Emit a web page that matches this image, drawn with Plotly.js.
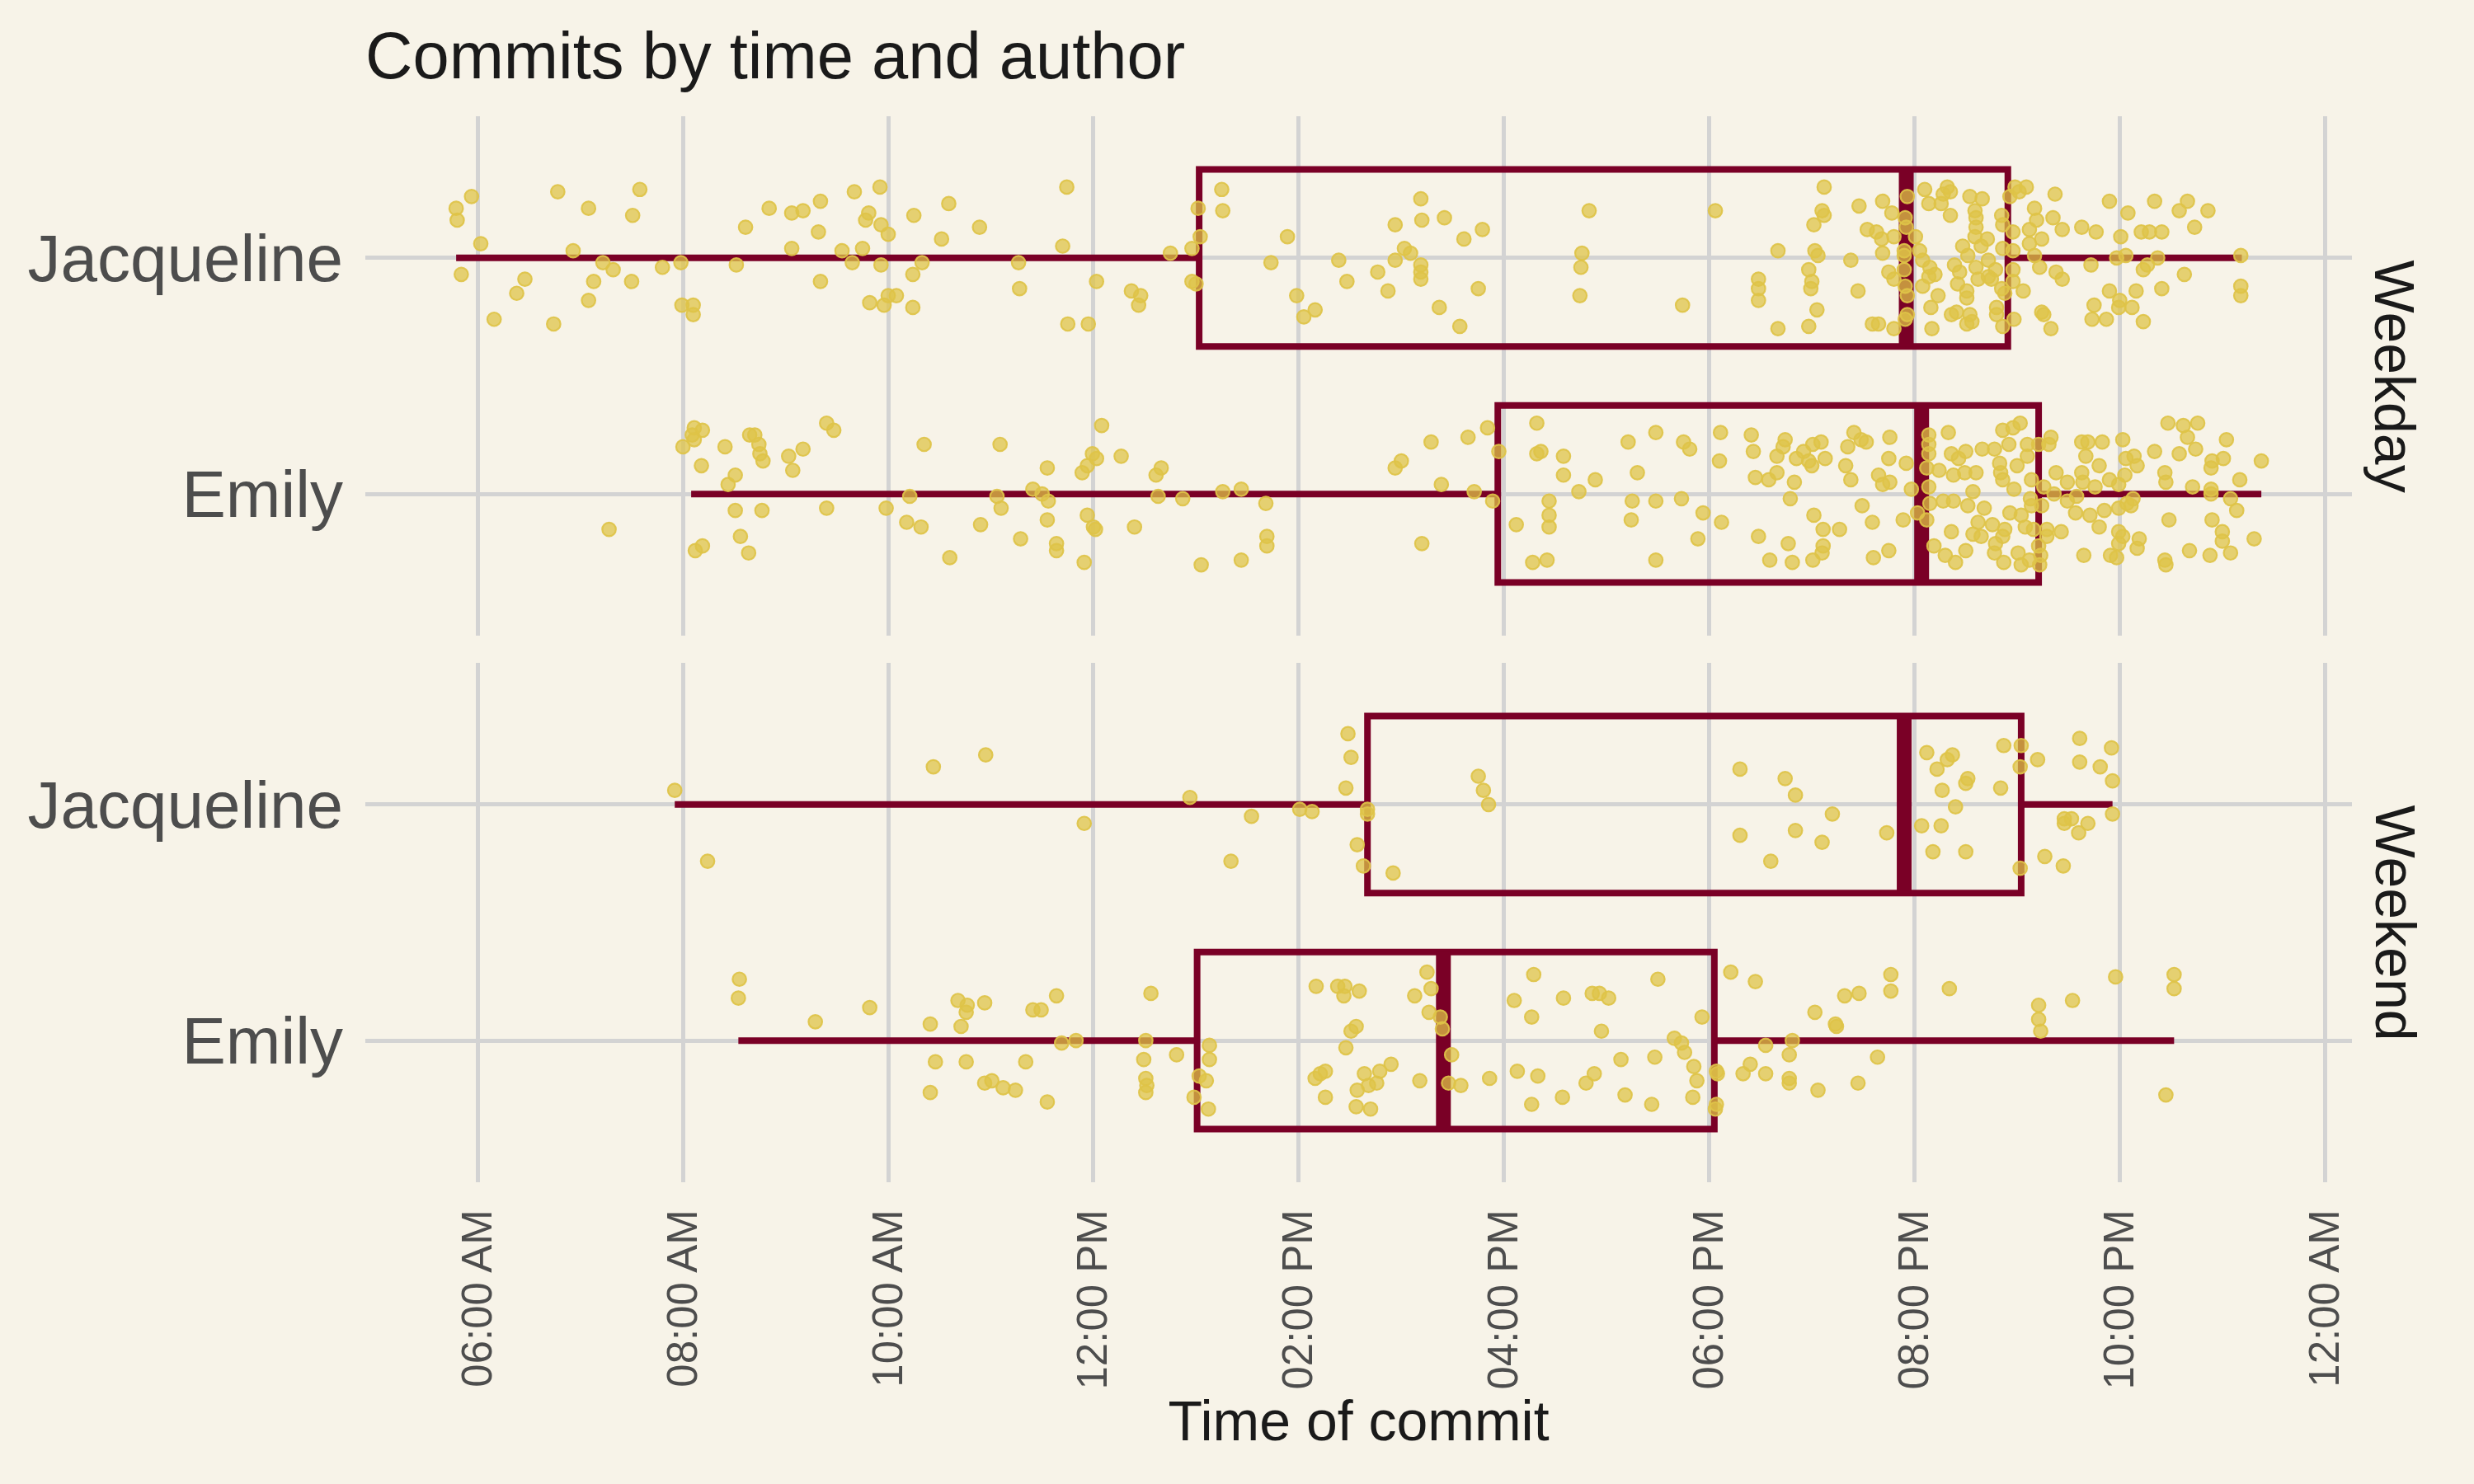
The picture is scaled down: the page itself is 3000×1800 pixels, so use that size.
<!DOCTYPE html>
<html>
<head>
<meta charset="utf-8">
<script src="https://cdn.plot.ly/plotly-3.0.1.min.js"></script>
<style>html,body{margin:0;padding:0;background:#F7F3E8;}#chart{width:3000px;height:1800px;}</style>
</head>
<body>
<div id="chart"></div>
<script>
// ---------- data ----------
const authors = ['Emily', 'Jacqueline'];            // y positions 1, 2
const authorPos = [1, 2];
const panels = ['Weekday', 'Weekend'];

const xTickVals = [6, 8, 10, 12, 14, 16, 18, 20, 22, 24];
const xTickText = ['06:00 AM', '08:00 AM', '10:00 AM', '12:00 PM', '02:00 PM', '04:00 PM', '06:00 PM', '08:00 PM', '10:00 PM', '12:00 AM'];

// box statistics (hours of day), order: Emily, Jacqueline
const weekdayLowerFence = [8.08, 5.79];
const weekdayQ1 = [15.94, 13.03];
const weekdayMedian = [20.07, 19.92];
const weekdayQ3 = [21.21, 20.91];
const weekdayUpperFence = [23.38, 23.19];

const weekendLowerFence = [8.54, 7.92];
const weekendQ1 = [13.01, 14.67];
const weekendMedian = [15.41, 19.90];
const weekendQ3 = [18.05, 21.04];
const weekendUpperFence = [22.53, 21.93];

// commits: time of day (hours) and vertical jitter (category units)
const weekdayJacquelineTime = [
 5.79,5.80,5.94,6.03,5.84,6.16,6.38,6.46,6.78,6.74,
 6.93,7.08,7.22,7.13,7.08,7.32,7.58,7.51,7.50,7.80,
 7.98,7.99,8.10,8.10,8.52,8.61,8.84,9.06,9.17,9.06,
 9.34,9.32,9.34,9.55,9.65,9.67,9.75,9.81,9.78,9.92,
 9.93,10.00,9.93,9.82,9.96,10.00,10.08,10.25,10.24,10.33,
 10.24,10.59,10.52,10.89,11.27,11.28,11.74,11.70,11.75,
 11.95,12.03,12.37,12.46,12.44,12.75,12.96,13.02,13.04,12.96,
 13.00,13.25,13.26,13.73,13.89,13.98,14.05,14.16,14.39,14.47,
 14.77,14.87,14.94,14.94,15.03,15.09,15.19,15.20,15.19,15.19,
 15.19,15.42,15.61,15.79,15.75,15.37,15.57,16.83,16.76,16.75,
 16.74,17.74,
 18.06,18.48,18.48,18.48,18.67,18.67,19.12,19.10,19.12,19.02,
 19.03,19.06,18.97,19.00,18.99,19.05,18.97,19.38,19.45,19.46,
 19.69,19.78,19.54,19.63,19.68,19.80,19.69,19.75,19.80,19.59,
 19.65,19.80,19.93,19.91,19.92,19.90,19.90,19.90,19.91,19.93,
 19.93,19.91,20.01,20.05,20.10,20.14,20.26,20.28,20.32,20.35,
 20.35,20.08,20.15,20.08,20.14,20.20,20.23,20.16,20.17,20.39,
 20.44,20.42,20.47,20.51,20.51,20.36,20.41,20.51,20.56,20.54,
 20.54,20.66,20.59,20.60,20.60,20.59,20.52,20.60,20.71,20.65,
 20.72,20.72,20.62,20.79,20.75,20.80,20.80,20.85,20.86,20.86,
 20.85,20.88,20.86,20.97,20.93,20.98,21.02,21.09,20.96,20.96,
 20.96,20.96,21.06,21.17,21.19,21.12,21.12,21.17,21.22,21.24,
 21.35,21.37,21.44,21.38,21.44,21.24,21.26,21.33,21.63,21.77,
 21.72,21.90,22.08,22.01,21.97,22.06,21.90,21.75,21.73,21.87,
 22.00,21.99,22.12,22.16,22.23,22.21,22.29,22.41,22.34,22.23,
 22.27,22.37,22.41,22.63,22.58,22.66,22.73,22.86,23.18,23.18,23.18
];
const weekdayJacquelineJitter = [
 0.21,0.16,0.26,0.06,-0.07,-0.26,-0.15,-0.09,0.28,-0.28,
 0.03,0.21,-0.02,-0.10,-0.18,-0.05,0.29,0.18,-0.10,-0.04,
 -0.02,-0.20,-0.20,-0.24,-0.03,0.13,0.21,0.19,0.20,0.04,
 0.24,0.11,-0.10,0.03,-0.02,0.28,0.04,0.19,0.16,0.30,
 0.14,0.10,-0.03,-0.19,-0.20,-0.16,-0.16,0.18,-0.07,-0.02,
 -0.21,0.23,0.08,0.13,-0.02,-0.13,0.30,0.05,-0.28,
 -0.28,-0.10,-0.14,-0.16,-0.20,0.02,0.04,0.21,0.09,-0.10,
 -0.11,0.29,0.20,-0.02,0.09,-0.16,-0.25,-0.22,-0.01,-0.10,
 -0.06,-0.14,0.14,-0.01,0.04,0.02,0.25,0.16,-0.03,-0.06,
 -0.09,0.17,0.08,0.12,-0.13,-0.21,-0.29,0.20,0.02,-0.04,
 -0.16,-0.20,
 0.20,-0.09,-0.13,-0.18,0.03,-0.30,0.30,0.20,0.18,0.14,
 0.03,0.01,-0.05,-0.10,-0.13,-0.22,-0.29,-0.01,-0.14,0.22,
 0.24,0.19,0.12,0.11,0.08,0.09,0.02,-0.06,-0.09,-0.28,
 -0.28,-0.30,0.26,0.17,0.13,0.03,0.01,-0.05,-0.12,-0.16,
 -0.24,-0.26,0.09,0.03,0.29,0.23,0.23,0.27,0.30,0.28,
 0.18,-0.01,-0.04,-0.12,-0.08,-0.07,-0.16,-0.21,-0.30,-0.03,
 -0.06,-0.11,0.05,-0.14,-0.17,-0.24,-0.23,-0.28,-0.27,-0.24,
 0.26,0.25,0.20,0.17,0.13,0.09,0.01,-0.04,0.08,0.05,
 -0.01,-0.08,-0.09,-0.05,-0.09,-0.21,-0.24,0.18,0.14,0.04,
 -0.13,-0.15,-0.29,-0.26,0.26,0.30,0.28,0.30,0.11,0.03,
 -0.05,-0.10,-0.14,0.21,0.16,0.12,0.06,0.01,-0.04,0.08,
 0.17,0.27,0.12,-0.06,-0.09,-0.23,-0.24,-0.30,0.13,0.11,
 -0.03,0.24,0.19,0.09,0.00,0.01,-0.14,-0.20,-0.26,-0.26,
 -0.18,-0.21,-0.21,-0.14,-0.27,0.11,0.11,0.11,0.24,-0.05,
 -0.03,0.00,-0.13,-0.07,0.20,0.24,0.13,0.20,0.01,-0.12,-0.16
];

const weekdayEmilyTime = [
 7.28,8.00,8.11,8.19,8.09,8.11,8.18,8.41,8.51,8.44,
 8.51,8.77,8.56,8.19,8.12,8.64,8.65,8.70,8.74,8.75,
 8.78,9.03,9.17,9.07,9.40,9.47,9.40,9.98,10.21,10.18,
 10.32,10.35,10.60,10.90,11.06,11.09,11.10,11.29,11.41,11.50,
 11.56,11.55,11.55,11.64,11.64,
 12.08,11.99,12.03,11.94,11.89,12.27,12.61,12.66,12.63,12.87,
 13.26,13.44,13.68,11.94,12.00,12.02,12.40,11.91,13.05,13.44,
 13.69,13.69,14.94,15.00,15.29,15.39,15.20,15.65,15.84,15.71,
 15.95,15.89,16.32,16.32,16.36,16.58,16.58,16.89,16.73,16.44,
 16.44,16.44,16.12,16.28,16.42,17.21,17.48,17.30,17.25,17.48,
 17.73,17.24,17.48,17.75,17.81,17.89,
 17.94,
 18.11,18.10,18.12,18.41,18.43,18.45,18.58,18.48,18.59,18.66,
 18.66,18.72,18.74,18.79,18.83,18.85,18.92,18.97,19.00,19.01,
 19.09,19.13,19.02,19.11,18.77,18.81,19.01,19.11,19.10,19.27,
 19.33,19.35,19.41,19.48,19.53,19.38,19.49,19.59,19.60,19.75,
 19.65,19.69,19.76,19.75,19.76,19.92,19.97,19.89,20.03,20.14,
 20.14,20.14,20.12,20.14,20.15,20.12,20.24,20.33,20.36,20.43,
 20.50,20.38,20.49,20.60,20.28,20.38,20.52,20.57,20.68,20.36,
 20.19,20.30,20.40,20.50,20.62,20.57,20.65,20.76,20.66,20.78,
 20.86,20.96,21.03,20.92,20.83,20.84,20.86,21.00,20.97,20.93,
 21.04,20.88,20.86,20.79,20.78,20.87,21.01,21.04,21.12,21.08,
 21.10,21.10,21.14,21.13,21.14,21.16,21.21,21.21,21.23,21.22,
 21.26,21.24,21.29,21.29,21.33,21.31,21.38,21.36,21.43,21.49,
 21.49,21.57,21.58,21.63,21.64,21.67,21.63,21.69,21.65,21.71,
 21.76,21.80,21.83,21.80,21.85,21.90,21.99,22.03,22.05,22.06,
 22.14,22.17,21.99,22.07,22.13,22.11,21.99,22.03,21.99,22.19,
 22.17,21.91,21.97,22.34,22.47,22.62,22.76,22.66,22.58,22.74,
 22.44,22.45,22.71,22.90,22.89,23.01,23.04,23.17,22.89,22.89,
 23.08,23.14,22.48,22.90,23.00,23.00,23.31,22.68,22.44,22.45,
 22.88,23.08,23.38
];
const weekdayEmilyJitter = [
 -0.15,0.20,0.28,0.27,0.25,0.23,0.12,0.20,0.08,0.04,
 -0.07,-0.07,-0.18,-0.22,-0.24,-0.25,0.25,0.25,0.21,0.17,
 0.14,0.16,0.19,0.10,0.30,0.27,-0.06,-0.06,-0.01,-0.12,
 -0.14,0.21,-0.27,-0.13,-0.01,0.21,-0.06,-0.19,0.02,0.00,
 -0.03,-0.11,0.11,-0.21,-0.24,
 0.29,0.17,0.15,0.12,0.09,0.16,0.08,0.11,-0.01,-0.02,
 0.01,0.02,-0.04,-0.09,-0.14,-0.15,-0.14,-0.29,-0.30,-0.28,
 -0.18,-0.22,0.11,0.14,0.22,0.04,-0.21,0.24,0.28,0.01,
 0.18,-0.03,0.30,0.17,0.18,0.16,0.08,0.06,0.01,-0.03,
 -0.09,-0.14,-0.13,-0.29,-0.28,0.22,0.26,0.09,-0.03,-0.03,
 -0.02,-0.11,-0.28,0.22,0.19,-0.19,
 -0.08,
 0.26,0.14,-0.12,0.25,0.18,0.07,0.06,-0.18,-0.28,0.09,
 0.16,0.20,0.23,-0.02,0.05,0.15,0.18,0.14,0.12,0.21,
 0.22,0.15,-0.09,-0.15,-0.21,-0.29,-0.28,-0.22,-0.25,-0.15,
 0.12,0.20,0.26,0.23,0.22,0.06,-0.05,-0.12,-0.27,-0.24,
 0.08,0.04,0.05,0.15,0.24,0.13,0.02,-0.11,-0.08,0.25,
 0.21,0.17,0.11,0.03,-0.04,-0.11,0.10,0.26,0.17,0.15,
 0.18,0.08,0.09,0.09,-0.03,-0.03,-0.05,0.01,-0.06,-0.16,
 -0.22,-0.26,-0.29,-0.24,-0.12,-0.17,-0.18,-0.13,0.19,0.19,
 0.27,0.28,0.30,0.21,0.13,0.09,0.06,0.12,0.02,-0.08,
 -0.09,-0.15,-0.18,-0.21,-0.25,-0.29,-0.25,-0.30,-0.28,-0.14,
 0.21,0.16,0.06,-0.02,-0.05,-0.15,0.21,-0.22,-0.26,-0.30,
 0.03,-0.05,-0.15,-0.18,0.24,0.21,0.09,0.00,-0.16,0.05,
 -0.03,-0.08,-0.01,0.09,0.05,0.16,0.22,0.22,-0.26,-0.09,
 0.03,0.12,0.22,-0.14,-0.07,0.06,0.04,0.23,0.08,0.15,
 0.16,0.12,-0.06,-0.04,-0.02,-0.05,-0.16,-0.18,-0.21,-0.19,
 -0.23,-0.26,-0.27,0.18,0.30,0.29,0.30,0.24,0.17,0.19,
 0.09,0.05,0.03,0.14,0.11,0.15,0.23,0.06,0.02,0.00,
 -0.02,-0.07,-0.11,-0.11,-0.16,-0.20,-0.19,-0.24,-0.28,-0.30,
 -0.26,-0.25,0.14
];

const weekendJacquelineTime = [
 7.92,8.24,10.44,10.95,
 11.91,12.94,13.54,13.34,14.01,14.13,14.48,14.51,14.46,14.67,
 14.67,14.57,14.63,14.92,15.75,15.80,15.85,
 18.30,18.74,18.84,19.20,18.30,18.84,19.10,18.60,19.73,20.12,
 20.32,20.37,20.22,20.52,20.50,20.27,20.40,20.07,20.26,20.18,
 20.50,20.87,20.84,21.04,21.03,21.03,21.20,21.61,21.61,21.81,
 21.92,21.93,21.93,21.46,21.53,21.46,21.69,21.60,21.27,21.45
];
const weekendJacquelineJitter = [
 0.06,-0.24,0.16,0.21,
 -0.08,0.03,-0.05,-0.24,-0.02,-0.03,0.30,0.20,0.07,-0.02,
 -0.04,-0.17,-0.26,-0.29,0.12,0.06,0.00,
 0.15,0.11,0.04,-0.04,-0.13,-0.11,-0.16,-0.24,-0.12,0.22,
 0.19,0.21,0.15,0.11,0.09,0.06,-0.01,-0.09,-0.09,-0.20,
 -0.20,0.25,0.07,0.25,0.16,-0.27,0.19,0.28,0.18,0.16,
 0.24,0.10,-0.04,-0.06,-0.06,-0.08,-0.08,-0.12,-0.22,-0.26
];

const weekendEmilyTime = [
 8.55,8.54,9.29,9.82,10.41,10.68,10.77,10.76,10.94,10.71,
 10.46,10.76,10.41,10.94,11.01,11.12,11.24,11.34,11.55,11.41,
 11.49,11.64,11.69,
 11.83,12.56,12.51,12.49,12.81,12.51,12.52,12.51,13.13,13.13,
 13.03,13.10,12.98,13.12,14.17,14.38,14.45,14.44,14.59,14.51,
 14.56,14.46,14.16,14.21,14.26,14.26,14.64,14.79,14.90,14.57,
 14.68,14.76,14.56,14.70,15.18,15.25,15.29,15.13,15.27,15.38,
 15.40,15.49,15.46,15.58,15.86,16.13,16.33,16.27,16.57,16.29,
 16.10,16.27,16.58,16.86,16.93,17.02,16.95,17.50,17.14,17.47,
 17.66,17.73,17.76,16.88,16.80,17.18,17.44,17.85,17.88,17.84,
 17.93,18.21,18.45,18.07,18.08,18.07,18.06,18.40,18.33,18.55,
 18.55,18.81,18.78,18.78,18.78,19.06,19.45,19.64,19.03,19.23,
 19.24,19.32,19.46,19.77,19.77,20.34,21.21,21.21,21.23,21.54,
 21.96,22.53,22.53,22.45
];
const weekendEmilyJitter = [
 0.26,0.18,0.08,0.14,0.07,0.17,0.15,0.12,0.16,0.06,
 -0.09,-0.09,-0.22,-0.18,-0.17,-0.20,-0.21,-0.09,-0.26,0.13,
 0.13,0.19,-0.01,
 0.00,0.20,0.00,-0.08,-0.06,-0.16,-0.19,-0.22,-0.02,-0.08,
 -0.15,-0.17,-0.24,-0.29,0.23,0.23,0.23,0.19,0.21,0.04,
 0.06,-0.03,-0.16,-0.14,-0.13,-0.24,-0.14,-0.13,-0.10,-0.21,
 -0.19,-0.18,-0.28,-0.29,-0.17,0.29,0.22,0.19,0.12,0.10,
 0.05,-0.06,-0.18,-0.19,-0.16,-0.13,-0.15,-0.27,-0.24,0.28,
 0.17,0.10,0.18,0.20,0.20,0.18,0.04,0.26,-0.08,-0.07,
 0.01,-0.01,-0.05,-0.14,-0.18,-0.23,-0.27,-0.11,-0.17,-0.24,
 0.10,0.29,0.25,-0.13,-0.14,-0.27,-0.29,-0.10,-0.14,-0.14,
 -0.02,0.00,-0.06,-0.16,-0.18,-0.21,-0.18,-0.07,0.12,0.07,
 0.06,0.19,0.20,0.28,0.21,0.22,0.15,0.09,0.04,0.17,
 0.27,0.28,0.22,-0.23
];

// ---------- styles ----------
const BG = '#F7F3E8';
const BOX = '#7A0026';
const FONT = 'Liberation Sans, Arial, sans-serif';
const BOXWIDTH = 0.75;

function boxTrace(lf, q1, med, q3, uf, xa, ya) {
  return {
    type: 'box', orientation: 'h', y: authorPos,
    lowerfence: lf, q1: q1, median: med, q3: q3, upperfence: uf,
    width: BOXWIDTH, whiskerwidth: 0, boxpoints: false,
    line: {color: BOX, width: 8}, fillcolor: 'rgba(0,0,0,0)',
    xaxis: xa, yaxis: ya, showlegend: false, hoverinfo: 'skip'
  };
}
function medianTrace(med, xa, ya) {
  const x = [], y = [];
  med.forEach((m, i) => {
    x.push(m, m, null);
    y.push(authorPos[i] - BOXWIDTH / 2, authorPos[i] + BOXWIDTH / 2, null);
  });
  return {type: 'scatter', mode: 'lines', x: x, y: y, xaxis: xa, yaxis: ya,
          line: {color: BOX, width: 18}, showlegend: false, hoverinfo: 'skip'};
}
function pointsTrace(times, jit, pos, xa, ya) {
  return {
    type: 'scatter', mode: 'markers', x: times,
    y: jit.map(j => pos + j), xaxis: xa, yaxis: ya,
    marker: {size: 16.5, color: 'rgba(222,195,72,0.74)',
             line: {color: 'rgba(222,195,72,0.92)', width: 2.2}},
    showlegend: false, hoverinfo: 'skip'
  };
}

const traces = [
  boxTrace(weekdayLowerFence, weekdayQ1, weekdayMedian, weekdayQ3, weekdayUpperFence, 'x2', 'y2'),
  medianTrace(weekdayMedian, 'x2', 'y2'),
  boxTrace(weekendLowerFence, weekendQ1, weekendMedian, weekendQ3, weekendUpperFence, 'x', 'y'),
  medianTrace(weekendMedian, 'x', 'y'),
  pointsTrace(weekdayJacquelineTime, weekdayJacquelineJitter, 2, 'x2', 'y2'),
  pointsTrace(weekdayEmilyTime, weekdayEmilyJitter, 1, 'x2', 'y2'),
  pointsTrace(weekendJacquelineTime, weekendJacquelineJitter, 2, 'x', 'y'),
  pointsTrace(weekendEmilyTime, weekendEmilyJitter, 1, 'x', 'y')
];

const gridColor = '#D3D3D3';
const xRange = [4.905, 24.263];
const yRange = [0.4, 2.6];
const yAxisBase = {
  range: yRange, tickvals: authorPos, ticktext: authors,
  tickfont: {family: FONT, size: 80, color: '#4D4D4D'},
  showgrid: true, gridcolor: gridColor, gridwidth: 5,
  zeroline: false, showline: false, ticks: '', ticklabelstandoff: 26, fixedrange: true
};
const topDomain = [0.5128, 1];
const botDomain = [0, 0.4872];

const layout = {
  width: 3000, height: 1800,
  paper_bgcolor: BG, plot_bgcolor: BG,
  font: {family: FONT, color: '#1A1A1A'},
  margin: {l: 442.5, r: 148.4, t: 141.2, b: 366, pad: 0},
  showlegend: false,
  title: {text: 'Commits by time and author', x: 0, xref: 'paper', xanchor: 'left',
          y: 0.9628, yref: 'container', yanchor: 'middle',
          font: {family: FONT, size: 79.5, color: '#1A1A1A'}},
  xaxis: {
    anchor: 'y', domain: [0, 1], range: xRange,
    tickvals: xTickVals, ticktext: xTickText, tickangle: -90,
    tickfont: {family: FONT, size: 51, color: '#4D4D4D'},
    showgrid: true, gridcolor: gridColor, gridwidth: 5,
    zeroline: false, showline: false, ticks: '', ticklabelstandoff: 22,
    title: {text: 'Time of commit', font: {family: FONT, size: 68, color: '#1A1A1A'}, standoff: 10}
  },
  xaxis2: {
    anchor: 'y2', domain: [0, 1], matches: 'x', range: xRange,
    tickvals: xTickVals, showticklabels: false,
    showgrid: true, gridcolor: gridColor, gridwidth: 5,
    zeroline: false, showline: false, ticks: ''
  },
  yaxis: Object.assign({}, yAxisBase, {domain: botDomain, anchor: 'x'}),
  yaxis2: Object.assign({}, yAxisBase, {domain: topDomain, anchor: 'x2'}),
  annotations: [
    {text: panels[0], xref: 'paper', yref: 'paper', x: 1.0218,
     y: (topDomain[0] + topDomain[1]) / 2, xanchor: 'center', yanchor: 'middle',
     textangle: 90, showarrow: false, font: {family: FONT, size: 68, color: '#1A1A1A'}},
    {text: panels[1], xref: 'paper', yref: 'paper', x: 1.0218,
     y: (botDomain[0] + botDomain[1]) / 2, xanchor: 'center', yanchor: 'middle',
     textangle: 90, showarrow: false, font: {family: FONT, size: 68, color: '#1A1A1A'}}
  ]
};

Plotly.newPlot('chart', traces, layout, {displayModeBar: false, staticPlot: true});
</script>
</body>
</html>
